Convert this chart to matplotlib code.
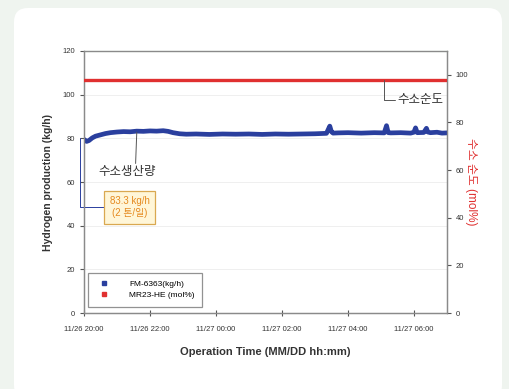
import numpy as np
import matplotlib
matplotlib.use('Agg')
import matplotlib.pyplot as plt
from matplotlib.patches import FancyBboxPatch
from matplotlib.lines import Line2D

plt.rcParams['font.family'] = ['Liberation Sans', 'Noto Sans CJK KR']

# x tick labels (every 2 hours from 11/26 20:00)
tick_hours = [0, 2, 4, 6, 8, 10]
tick_labels = ['11/26 20:00', '11/26 22:00', '11/27 00:00',
               '11/27 02:00', '11/27 04:00', '11/27 06:00']

# hydrogen production (kg/h), hours after 11/26 20:00
prod_hours = [0.0, 0.08, 0.15, 0.25, 0.35, 0.5, 0.65, 0.8, 1.0, 1.2, 1.4,
              1.6, 1.8, 2.0, 2.2, 2.4, 2.55, 2.7, 2.9, 3.1, 3.4, 3.8, 4.2,
              4.6, 5.0, 5.4, 5.8, 6.2, 6.6, 7.0, 7.35, 7.45, 7.5, 7.55, 7.7,
              8.0, 8.4, 8.8, 9.1, 9.17, 9.22, 9.3, 9.6, 9.9, 10.0, 10.05,
              10.1, 10.3, 10.38, 10.42, 10.5, 10.7, 10.85, 11.0]
prod_vals = [79.5, 78.6, 79.0, 80.2, 81.0, 81.6, 82.2, 82.6, 82.9, 83.1, 83.0,
             83.3, 83.2, 83.4, 83.3, 83.5, 83.2, 82.6, 82.1, 81.9, 82.0, 81.8, 82.0,
             81.9, 82.0, 81.8, 82.0, 81.9, 82.0, 82.1, 82.3, 85.6, 83.0, 82.4, 82.5,
             82.6, 82.4, 82.6, 82.5, 85.8, 82.6, 82.5, 82.6, 82.4, 82.8, 84.8,
             82.6, 82.7, 84.6, 82.9, 82.6, 82.8, 82.4, 82.5]

# hydrogen purity (mol%)
purity_hours = [0.0, 11.0]
purity_vals = [97.9, 97.9]

fig = plt.figure(figsize=(5.09, 3.89), dpi=100)
fig.patch.set_facecolor('#eff4ef')
card = FancyBboxPatch((14, -10), 488, 391, boxstyle='round,pad=0,rounding_size=14',
                      transform=None, facecolor='white', edgecolor='none', zorder=-10)
fig.patches.append(card)

ax = fig.add_axes([0.165, 0.195, 0.713, 0.674])
ax.set_facecolor('none')
ax2 = ax.twinx()

blue = '#2a3f9e'
red = '#e03030'
ax.plot(prod_hours, prod_vals, color=blue, lw=3.4, zorder=3)
ax2.plot(purity_hours, purity_vals, color=red, lw=2.4, zorder=3)

ax.set_xlim(0, 11)
ax.set_ylim(0, 120)
ax2.set_ylim(0, 110)
ax.set_yticks([0, 20, 40, 60, 80, 100, 120])
ax2.set_yticks([0, 20, 40, 60, 80, 100])
ax.set_xticks(tick_hours)
ax.set_xticklabels(tick_labels)
ax.grid(axis='y', color='#ececec', lw=0.6)
ax.set_axisbelow(True)

for a in (ax, ax2):
    for s in a.spines.values():
        s.set_color('#8a8a8a')
        s.set_linewidth(0.9)
ax.spines['top'].set_color('#a8b8a8')
ax.tick_params(axis='both', labelsize=5.5, colors='#555555', labelcolor='#333333', length=3, width=0.8)
ax.tick_params(axis='x', direction='inout', length=4, pad=7)
ax2.tick_params(axis='y', labelsize=5.5, colors='#555555', labelcolor='#333333', length=3, width=0.8)

ax.set_xlabel('Operation Time (MM/DD hh:mm)', fontsize=8, fontweight='bold', color='#333333', labelpad=10)
ax.set_ylabel('Hydrogen production (kg/h)', fontsize=7.5, fontweight='bold', color='#333333', labelpad=7)
ax2.set_ylabel('수소 순도 (mol%)', fontsize=8.5, color=red, rotation=270, labelpad=6)

# annotations
ax2.annotate('수소순도', xy=(9.1, purity_vals[0]), xytext=(9.5, 89.5),
             fontsize=9, color='#333333', ha='left', va='center',
             arrowprops=dict(arrowstyle='-', color='#555555', lw=0.7,
                             connectionstyle='angle,angleA=0,angleB=90,rad=0',
                             shrinkA=0, shrinkB=0))
ax.annotate('수소생산량', xy=(1.6, 82.8), xytext=(1.3, 64.5),
            fontsize=9, color='#333333', ha='center', va='center',
            arrowprops=dict(arrowstyle='-', color='#555555', lw=0.7,
                            relpos=(0.65, 1.0), shrinkA=0, shrinkB=0))
ax.annotate('83.3 kg/h\n(2 톤/일)', xy=(-0.12, 80), xytext=(1.38, 48.5),
            fontsize=7, color='#e58a1f', ha='center', va='center', linespacing=1.3,
            annotation_clip=False,
            bbox=dict(boxstyle='square,pad=0.55', facecolor='#fff6d8', edgecolor='#d9a850', lw=0.9),
            arrowprops=dict(arrowstyle='-', color=blue, lw=0.7, relpos=(0, 0.5),
                            connectionstyle='angle,angleA=180,angleB=90,rad=0',
                            shrinkA=0, shrinkB=0))

handles = [Line2D([], [], color=blue, marker='s', ls='none', markersize=2.5),
           Line2D([], [], color=red, marker='s', ls='none', markersize=2.5)]
leg = ax.legend(handles, ['FM-6363(kg/h)', 'MR23-HE (mol%)'], loc='lower left',
                bbox_to_anchor=(0.005, 0.015), fontsize=6, frameon=True, fancybox=False,
                borderpad=0.9, handletextpad=2.0, labelspacing=0.4, borderaxespad=0.3)
leg.get_frame().set_edgecolor('#777777')
leg.get_frame().set_linewidth(0.9)

fig.savefig('out.png', dpi=100, facecolor=fig.get_facecolor())
